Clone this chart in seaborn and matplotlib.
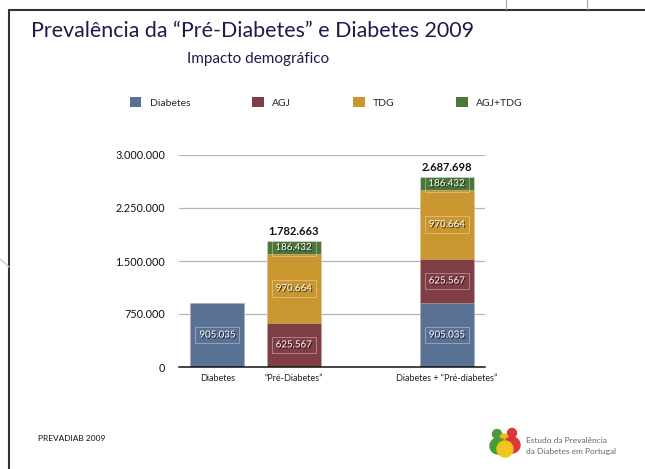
import matplotlib
matplotlib.use("Agg")
import matplotlib.pyplot as plt
import matplotlib.patheffects as pe
from matplotlib.lines import Line2D
from matplotlib.patches import Patch, Circle
import seaborn as sns
import pandas as pd

# ---- data ----
categorias = ["Diabetes", "\u201cPr\u00e9-Diabetes\u201d", "Diabetes + \u201cPr\u00e9-diabetes\u201d"]
ordem = ["Diabetes", "\u201cPr\u00e9-Diabetes\u201d", "", "Diabetes + \u201cPr\u00e9-diabetes\u201d"]
diabetes = [905035, 0, 905035]
agj = [0, 625567, 625567]
tdg = [0, 970664, 970664]
agj_tdg = [0, 186432, 186432]
totais_mostrados = [None, 1782663, 2687698]
series = ["Diabetes", "AGJ", "TDG", "AGJ+TDG"]
yticks = [0, 750000, 1500000, 2250000, 3000000]

cores = {"Diabetes": "#5a7196", "AGJ": "#7f3d46", "TDG": "#c9962f", "AGJ+TDG": "#4d763b"}

df = pd.DataFrame({"categoria": categorias, "Diabetes": diabetes, "AGJ": agj,
                   "TDG": tdg, "AGJ+TDG": agj_tdg})
cum = df[series].cumsum(axis=1)
for s in series:
    df["cum_" + s] = cum[s]

def fmt(v):
    return f"{v:,.0f}".replace(",", ".")

sns.set_style("white")
plt.rcParams["font.family"] = ["Lato", "DejaVu Sans"]

fig = plt.figure(figsize=(6.45, 4.69), dpi=100)
ax = fig.add_axes([179/645, 1-367/469, (485-179)/645, (367-155)/469])

for i, s in enumerate(reversed(series)):
    sns.barplot(data=df, x="categoria", y="cum_" + s, order=ordem, color=cores[s],
                width=0.71, ax=ax, saturation=1, edgecolor=(1, 1, 1, 0.35),
                linewidth=0.6, zorder=3 + i, errorbar=None)

ax.set_ylim(0, 3000000)
ax.set_xlim(-0.5, 3.5)
ax.set_yticks(yticks)
ax.set_yticklabels([fmt(v) for v in yticks], fontsize=7.8, color="#111111")
ax.tick_params(axis="y", length=0, pad=10)
ax.tick_params(axis="x", length=0, pad=5, labelsize=6.5, colors="#222222")
ax.set_xlabel("")
ax.set_ylabel("")
for t in yticks[1:]:
    ax.axhline(t, color="#b3b3b3", linewidth=0.9, zorder=1)
for side in ["left", "right", "top"]:
    ax.spines[side].set_visible(False)
ax.spines["bottom"].set_color("#111111")
ax.spines["bottom"].set_linewidth(1.1)
ax.spines["bottom"].set_zorder(20)

# segment labels
shadow = [pe.SimplePatchShadow(offset=(0.8, -0.8), shadow_rgbFace="black", alpha=0.7), pe.Normal()]
for r, cat in enumerate(categorias):
    xpos = ordem.index(cat)
    base = 0
    for s in series:
        v = df.loc[r, s]
        if v > 0:
            ax.text(xpos, base + v/2, fmt(v), ha="center", va="center", fontsize=7,
                    color="white", zorder=30, path_effects=shadow,
                    bbox=dict(boxstyle="square,pad=0.4", facecolor="none",
                              edgecolor=(1, 1, 1, 0.35), linewidth=0.7))
        base += v
    tot = totais_mostrados[r]
    if tot:
        ax.text(xpos, base + 60000, fmt(tot), ha="center", va="bottom", fontsize=8,
                fontweight="bold", color="#111111", zorder=30)

# legend
handles = [Patch(facecolor=cores[s], edgecolor="none") for s in series]
fig.legend(handles, series, loc="upper left", bbox_to_anchor=(130/645, 1-97/469),
           ncol=4, frameon=False, fontsize=7.5, handlelength=1.1, handleheight=1.1,
           handletextpad=0.8, columnspacing=5.95, borderpad=0, borderaxespad=0)

# titles
fig.text(253/645, 1-31/469, "Preval\u00eancia da \u201cPr\u00e9-Diabetes\u201d e Diabetes 2009",
         ha="center", va="center", fontsize=15.4, color="#1c1c4a")
fig.text(258/645, 1-59/469, "Impacto demogr\u00e1fico", ha="center", va="center",
         fontsize=11, color="#1c1c4a")

# footer
fig.text(38/645, 1-438/469, "PREVADIAB 2009", ha="left", va="center", fontsize=6, color="#111111")

# logo approximation
lax = fig.add_axes([488/645, 1-458/469, 40/645, 34/469])
lax.set_xlim(0, 40); lax.set_ylim(0, 34); lax.axis("off")
for (cx, cy, rr, c) in [(9, 24, 4.5, "#4a9a3a"), (24, 25, 4.5, "#d9383a"), (16, 20, 4, "#e8b820"),
                        (10, 12, 8, "#4a9a3a"), (24, 13, 8, "#d9383a"), (17, 9, 8, "#f0c61e")]:
    lax.add_patch(Circle((cx, cy), rr, color=c))
fig.text(526/645, 1-440/469, "Estudo da Preval\u00eancia", ha="left", va="center", fontsize=6,
         color="#666666")
fig.text(526/645, 1-451/469, "da Diabetes em Portugal", ha="left", va="center", fontsize=6,
         color="#666666")

# slide frame
fig.add_artist(Line2D([9/645, 9/645], [0, 1-10/469], color="#333333", lw=1.5))
fig.add_artist(Line2D([9/645, 1], [1-10/469, 1-10/469], color="#333333", lw=1.5))
for xx in [506, 587]:
    fig.add_artist(Line2D([xx/645, xx/645], [1-9/469, 1], color="#aaaaaa", lw=0.9))
fig.add_artist(Line2D([0, 9/645], [1-259/469, 1-267/469], color="#cccccc", lw=1))

fig.savefig("out.png", dpi=100, facecolor="white")
